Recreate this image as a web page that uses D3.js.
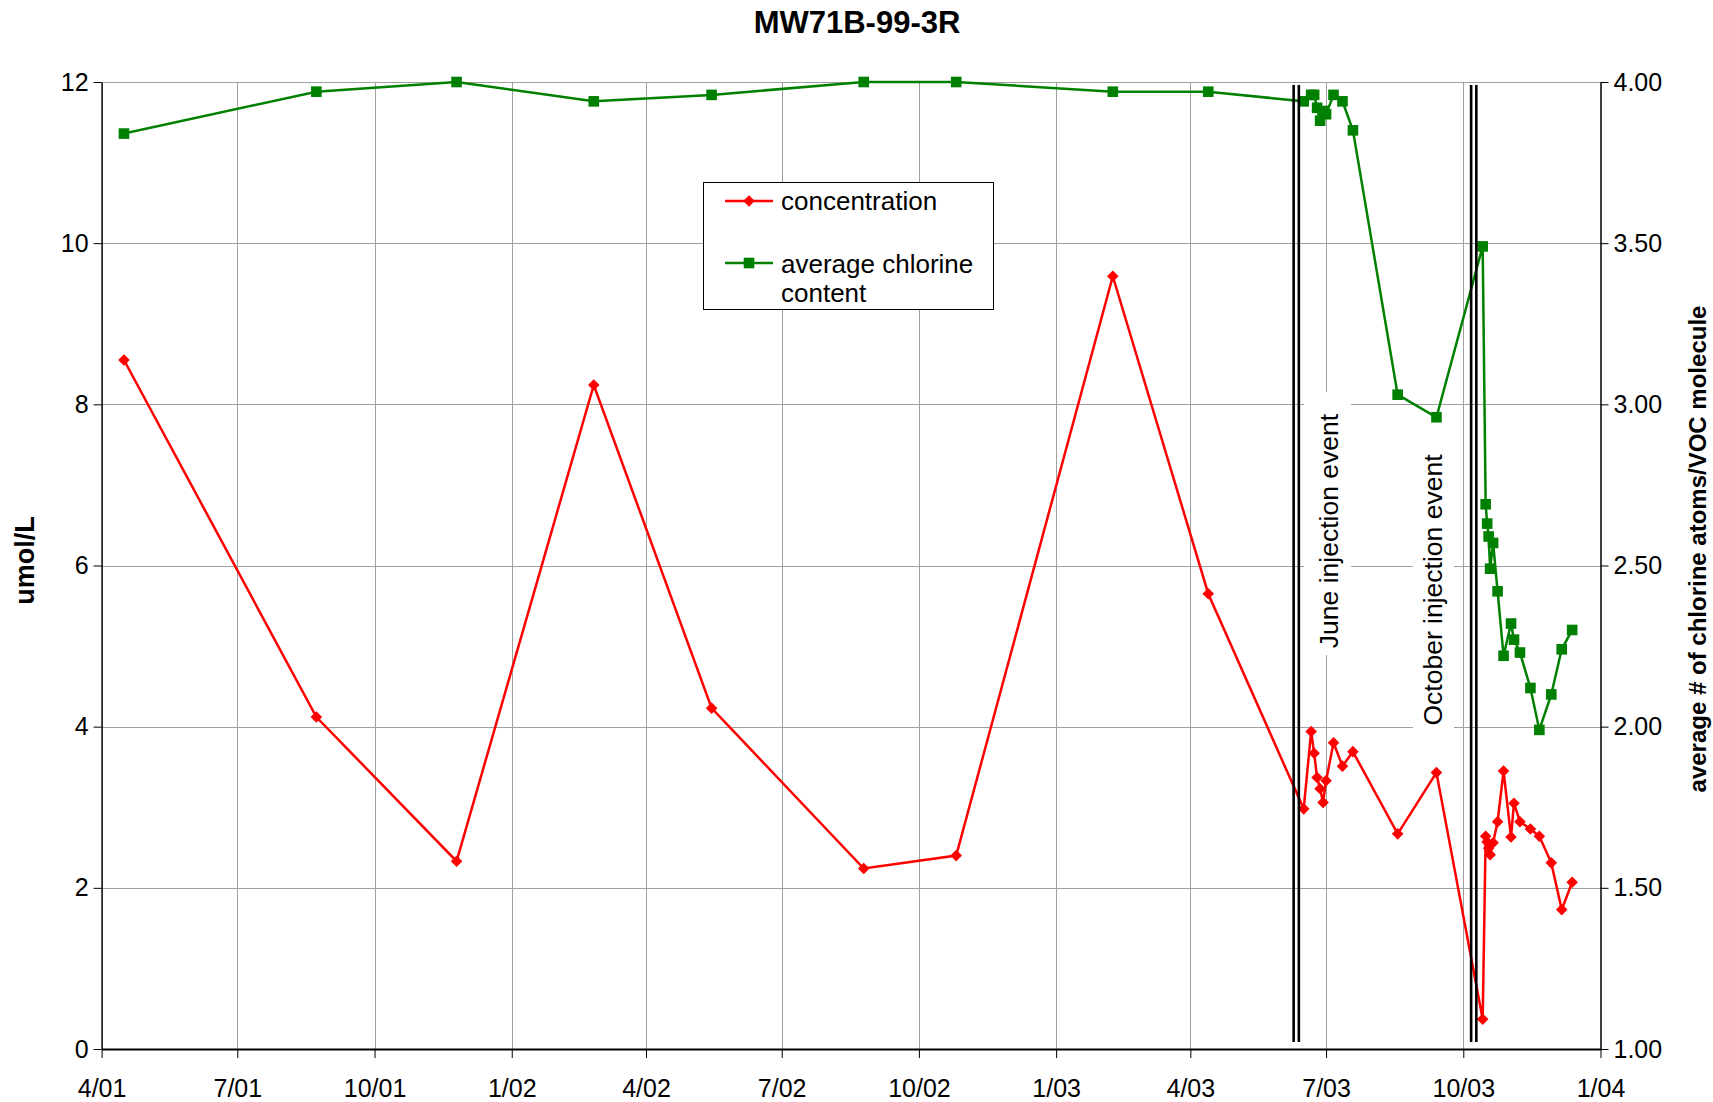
<!DOCTYPE html>
<html>
<head>
<meta charset="utf-8">
<script src="https://cdn.jsdelivr.net/npm/d3@7"></script>
<style>
  html, body { margin: 0; padding: 0; background: #fff; }
  svg { display: block; font-family: "Liberation Sans", Arial, Helvetica, sans-serif; }
</style>
</head>
<body>
<svg id="chart" width="1713" height="1102"></svg>
<script>
// ---- data -------------------------------------------------------------
const chartTitle = "MW71B-99-3R";

const sampleDates = [
  "2001-04-16", "2001-08-23", "2001-11-25", "2002-02-25", "2002-05-15",
  "2002-08-25", "2002-10-26", "2003-02-08", "2003-04-13", "2003-06-16",
  "2003-06-21", "2003-06-23", "2003-06-25", "2003-06-27", "2003-06-29",
  "2003-07-01", "2003-07-06", "2003-07-12", "2003-07-19", "2003-08-18",
  "2003-09-13", "2003-10-14", "2003-10-16", "2003-10-17", "2003-10-18",
  "2003-10-19", "2003-10-21", "2003-10-24", "2003-10-28", "2003-11-02",
  "2003-11-04", "2003-11-08", "2003-11-15", "2003-11-21", "2003-11-29",
  "2003-12-06", "2003-12-13"
];

// umol/L (left axis)
const concentration = [
  8.55, 4.12, 2.33, 8.24, 4.23,
  2.24, 2.40, 9.59, 5.65, 2.98,
  3.94, 3.67, 3.37, 3.23, 3.06,
  3.33, 3.80, 3.51, 3.69, 2.67,
  3.43, 0.37, 2.64, 2.57, 2.49,
  2.41, 2.56, 2.82, 3.45, 2.63,
  3.05, 2.82, 2.73, 2.64, 2.31,
  1.73, 2.07
];

// average # of chlorine atoms per VOC molecule (right axis)
const chlorineContent = [
  3.84, 3.97, 4.00, 3.94, 3.96,
  4.00, 4.00, 3.97, 3.97, 3.94,
  3.96, 3.96, 3.92, 3.88, 3.91,
  3.90, 3.96, 3.94, 3.85, 3.03,
  2.96, 3.49, 2.69, 2.63, 2.59,
  2.49, 2.57, 2.42, 2.22, 2.32,
  2.27, 2.23, 2.12, 1.99, 2.10,
  2.24, 2.30
];

const seriesNames = ["concentration", "average chlorine content"];

const injectionDates = ["2003-06-11", "2003-10-08"];
const injectionLabels = ["June injection event", "October injection event"];

const xTickDates = [
  "2001-04-01", "2001-07-01", "2001-10-01", "2002-01-01", "2002-04-01",
  "2002-07-01", "2002-10-01", "2003-01-01", "2003-04-01", "2003-07-01",
  "2003-10-01", "2004-01-01"
];
const leftTicks = [0, 2, 4, 6, 8, 10, 12];
const rightTicks = [1.00, 1.50, 2.00, 2.50, 3.00, 3.50, 4.00];

const leftAxisTitle = "umol/L";
const rightAxisTitle = "average # of chlorine atoms/VOC molecule";

// ---- layout -----------------------------------------------------------
const W = 1713, H = 1102;
const plot = { left: 101.6, right: 1600.5, top: 82, bottom: 1049 };
const RED = "#ff0000", GREEN = "#008000";
const TICK_FONT = 25;
const SERIES_WIDTH = 2.5;

const parse = d3.timeParse("%Y-%m-%d");
const dates = sampleDates.map(parse);
const tickDates = xTickDates.map(parse);

const x = d3.scaleTime()
  .domain([tickDates[0], tickDates[tickDates.length - 1]])
  .range([plot.left, plot.right]);
const yLeft = d3.scaleLinear().domain([0, 12]).range([plot.bottom, plot.top]);
const yRight = d3.scaleLinear().domain([1, 4]).range([plot.bottom, plot.top]);

const svg = d3.select("#chart");
svg.append("rect").attr("width", W).attr("height", H).attr("fill", "#fff");

// ---- gridlines --------------------------------------------------------
const grid = svg.append("g").attr("stroke", "#a0a0a0").attr("stroke-width", 1);
grid.selectAll("line.h").data(leftTicks.filter(v => v > 0)).join("line")
  .attr("x1", plot.left).attr("x2", plot.right)
  .attr("y1", d => Math.round(yLeft(d)) + 0.5).attr("y2", d => Math.round(yLeft(d)) + 0.5);
grid.selectAll("line.v").data(tickDates.slice(1, -1)).join("line")
  .attr("x1", d => Math.round(x(d)) + 0.5).attr("x2", d => Math.round(x(d)) + 0.5)
  .attr("y1", plot.top).attr("y2", plot.bottom);

// ---- axes -------------------------------------------------------------
function styleAxis(g, width) {
  g.selectAll("path.domain").attr("stroke", "#000").attr("stroke-width", width);
  g.selectAll(".tick line").attr("stroke", "#000").attr("stroke-width", 1);
  g.selectAll(".tick text").attr("fill", "#000")
    .style("font-size", TICK_FONT + "px")
    .style("font-family", "'Liberation Sans', Arial, sans-serif");
}

const xAxis = svg.append("g")
  .attr("transform", `translate(0,${plot.bottom})`)
  .call(d3.axisBottom(x).tickValues(tickDates).tickFormat(d3.timeFormat("%-m/%y"))
    .tickSize(9).tickSizeOuter(0).tickPadding(21));
styleAxis(xAxis, 2);

const leftAxis = svg.append("g")
  .attr("transform", `translate(${plot.left},0)`)
  .call(d3.axisLeft(yLeft).tickValues(leftTicks).tickFormat(d3.format("d"))
    .tickSize(8).tickSizeOuter(0).tickPadding(5));
styleAxis(leftAxis, 1.5);

const rightAxis = svg.append("g")
  .attr("transform", `translate(${plot.right},0)`)
  .call(d3.axisRight(yRight).tickValues(rightTicks).tickFormat(d3.format(".2f"))
    .tickSize(8).tickSizeOuter(0).tickPadding(5));
styleAxis(rightAxis, 1.5);

// ---- series -----------------------------------------------------------
const redPts = dates.map((d, i) => [x(d), yLeft(concentration[i])]);
const greenPts = dates.map((d, i) => [x(d), yRight(chlorineContent[i])]);
const line = d3.line();

function diamond(s) { return `M0,${-s}L${s},0L0,${s}L${-s},0Z`; }

svg.append("path").attr("d", line(greenPts))
  .attr("fill", "none").attr("stroke", GREEN).attr("stroke-width", SERIES_WIDTH);
svg.append("g").selectAll("rect").data(greenPts).join("rect")
  .attr("x", d => d[0] - 5.3).attr("y", d => d[1] - 5.3)
  .attr("width", 10.6).attr("height", 10.6).attr("fill", GREEN);

svg.append("path").attr("d", line(redPts))
  .attr("fill", "none").attr("stroke", RED).attr("stroke-width", SERIES_WIDTH);
svg.append("g").selectAll("path").data(redPts).join("path")
  .attr("transform", d => `translate(${d[0]},${d[1]})`)
  .attr("d", diamond(5.8)).attr("fill", RED);

// ---- injection events (double vertical rules) ---------------------------
const evG = svg.append("g").attr("stroke", "#000").attr("stroke-width", 2.6);
injectionDates.map(parse).forEach(d => {
  [-2.6, 2.6].forEach(off => {
    evG.append("line")
      .attr("x1", x(d) + off).attr("x2", x(d) + off)
      .attr("y1", plot.top + 3).attr("y2", plot.bottom - 7);
  });
});

// labels on white boxes
const labelBoxes = [
  { x: 1304, y: 392, w: 47, h: 263, cx: 1329, cy: 531 },
  { x: 1413, y: 446, w: 41, h: 290, cx: 1433, cy: 590 }
];
injectionLabels.forEach((t, i) => {
  const b = labelBoxes[i];
  svg.append("rect").attr("x", b.x).attr("y", b.y).attr("width", b.w).attr("height", b.h)
    .attr("fill", "#fff");
  svg.append("text")
    .attr("transform", `translate(${b.cx},${b.cy}) rotate(-90)`)
    .attr("text-anchor", "middle").attr("dy", "0.35em")
    .style("font-size", "26.5px").attr("fill", "#000").text(t);
});

// ---- legend -----------------------------------------------------------
const lg = svg.append("g");
lg.append("rect").attr("x", 703.5).attr("y", 182.5).attr("width", 290).attr("height", 127)
  .attr("fill", "#fff").attr("stroke", "#000").attr("stroke-width", 1);
lg.append("line").attr("x1", 725).attr("x2", 773).attr("y1", 201).attr("y2", 201)
  .attr("stroke", RED).attr("stroke-width", SERIES_WIDTH);
lg.append("path").attr("transform", "translate(749,201)").attr("d", diamond(5.8)).attr("fill", RED);
lg.append("text").attr("x", 781).attr("y", 201).attr("dy", "0.35em")
  .style("font-size", "26px").text(seriesNames[0]);

lg.append("line").attr("x1", 725).attr("x2", 773).attr("y1", 263).attr("y2", 263)
  .attr("stroke", GREEN).attr("stroke-width", SERIES_WIDTH);
lg.append("rect").attr("x", 743.7).attr("y", 257.7).attr("width", 10.6).attr("height", 10.6).attr("fill", GREEN);
const lgText = lg.append("text").attr("x", 781).attr("y", 264).style("font-size", "26px");
const words = seriesNames[1].split(" ");
lgText.append("tspan").attr("x", 781).attr("dy", "0.35em").text(words.slice(0, 2).join(" "));
lgText.append("tspan").attr("x", 781).attr("dy", "1.1em").text(words.slice(2).join(" "));

// ---- titles -----------------------------------------------------------
svg.append("text").attr("x", 857).attr("y", 22).attr("dy", "0.36em")
  .attr("text-anchor", "middle").style("font-size", "31px").style("font-weight", "bold")
  .text(chartTitle);

svg.append("text")
  .attr("transform", `translate(24,${(plot.top + plot.bottom) / 2 - 5}) rotate(-90)`)
  .attr("text-anchor", "middle").attr("dy", "0.36em")
  .style("font-size", "27px").style("font-weight", "bold").text(leftAxisTitle);

svg.append("text")
  .attr("transform", `translate(1697,549) rotate(-90)`)
  .attr("text-anchor", "middle").attr("dy", "0.36em")
  .style("font-size", "24px").style("font-weight", "bold").text(rightAxisTitle);
</script>
</body>
</html>
